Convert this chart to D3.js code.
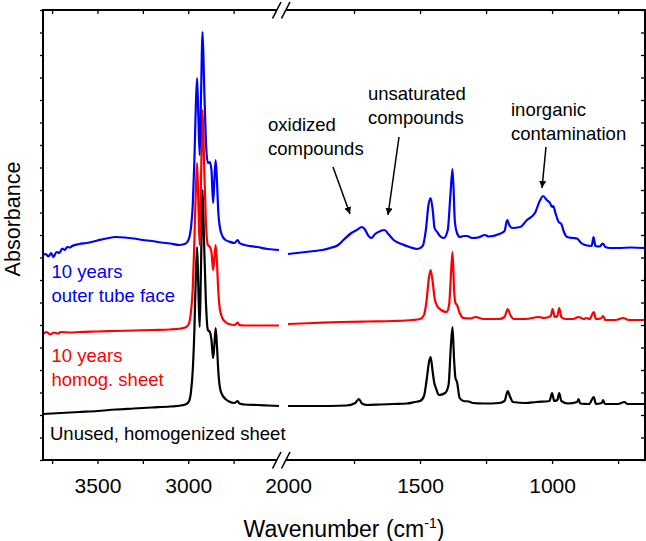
<!DOCTYPE html>
<html>
<head>
<meta charset="utf-8">
<script src="https://cdn.jsdelivr.net/npm/d3@7"></script>
<style>
  html, body { margin: 0; padding: 0; background: #fff; }
  svg { display: block; font-family: "Liberation Sans", Arial, Helvetica, sans-serif; }
</style>
</head>
<body>
<svg id="chart" width="646" height="541"></svg>
<script>
// ---- Data: [wavenumber (cm-1), absorbance (offset, a.u.)] ----
const blackLeft = [[3800,0.46],[3750,0.465],[3700,0.47],[3600,0.48],[3500,0.49],[3400,0.505],[3300,0.515],[3200,0.525],[3100,0.535],[3040,0.545],[3010,0.56],[2995,0.59],[2985,0.68],[2975,0.90],[2966,1.30],[2958,1.85],[2951,2.13],[2944,1.70],[2937,1.33],[2930,1.90],[2921,2.70],[2913,2.20],[2903,1.60],[2892,1.30],[2881,1.28],[2872,1.20],[2863,1.02],[2856,1.15],[2849,1.32],[2842,1.15],[2834,0.88],[2825,0.72],[2812,0.65],[2795,0.61],[2775,0.585],[2745,0.57],[2728,0.59],[2718,0.565],[2690,0.555],[2620,0.55],[2560,0.545],[2500,0.54]];
const blackRight = [[2000,0.54],[1900,0.54],[1780,0.545],[1745,0.57],[1732,0.61],[1720,0.565],[1700,0.55],[1650,0.555],[1600,0.56],[1550,0.565],[1520,0.58],[1500,0.59],[1485,0.64],[1475,0.80],[1466,0.98],[1460,1.03],[1452,0.88],[1446,0.77],[1440,0.72],[1428,0.65],[1405,0.67],[1392,0.75],[1383,1.15],[1377,1.33],[1371,1.00],[1366,0.82],[1360,0.78],[1350,0.62],[1335,0.59],[1315,0.585],[1300,0.57],[1260,0.565],[1200,0.57],[1180,0.59],[1168,0.69],[1160,0.64],[1148,0.58],[1100,0.57],[1060,0.58],[1010,0.59],[1000,0.67],[992,0.59],[980,0.60],[973,0.67],[965,0.59],[940,0.565],[905,0.58],[900,0.61],[893,0.565],[860,0.56],[842,0.63],[834,0.56],[812,0.57],[807,0.60],[800,0.56],[750,0.56],[726,0.58],[715,0.56],[650,0.56]];
const redLeft = [[3800,1.26],[3780,1.28],[3760,1.255],[3740,1.275],[3720,1.265],[3700,1.28],[3650,1.275],[3600,1.28],[3500,1.285],[3400,1.29],[3300,1.295],[3200,1.30],[3100,1.305],[3040,1.315],[3010,1.33],[2995,1.37],[2985,1.48],[2975,1.72],[2966,2.20],[2958,2.70],[2951,2.97],[2944,2.55],[2937,2.15],[2930,2.75],[2921,3.50],[2913,3.00],[2903,2.40],[2892,2.15],[2881,2.13],[2872,2.08],[2863,1.90],[2856,2.02],[2849,2.15],[2842,1.98],[2834,1.68],[2825,1.50],[2812,1.42],[2795,1.38],[2775,1.36],[2745,1.35],[2728,1.375],[2718,1.35],[2690,1.345],[2620,1.345],[2560,1.345],[2500,1.345]];
const redRight = [[2000,1.36],[1900,1.37],[1800,1.38],[1700,1.385],[1600,1.39],[1530,1.40],[1500,1.41],[1485,1.45],[1475,1.60],[1466,1.83],[1460,1.90],[1452,1.78],[1445,1.62],[1435,1.54],[1420,1.50],[1400,1.48],[1390,1.55],[1382,1.90],[1377,2.08],[1371,1.70],[1366,1.57],[1360,1.55],[1350,1.47],[1335,1.42],[1310,1.415],[1290,1.43],[1260,1.41],[1200,1.41],[1180,1.43],[1168,1.51],[1158,1.45],[1145,1.41],[1100,1.41],[1050,1.43],[1030,1.42],[1005,1.44],[998,1.51],[990,1.43],[980,1.44],[973,1.52],[965,1.43],[950,1.41],[920,1.41],[900,1.43],[880,1.41],[870,1.42],[858,1.41],[842,1.48],[834,1.41],[815,1.415],[807,1.44],[798,1.40],[760,1.40],[730,1.42],[710,1.40],[650,1.40]];
const blueLeft = [[3800,2.05],[3785,2.06],[3770,2.035],[3755,2.07],[3743,2.03],[3725,2.08],[3710,2.07],[3694,2.115],[3680,2.10],[3667,2.13],[3650,2.125],[3640,2.14],[3600,2.16],[3560,2.17],[3500,2.195],[3450,2.215],[3400,2.23],[3350,2.225],[3300,2.215],[3250,2.20],[3200,2.19],[3150,2.175],[3100,2.165],[3050,2.15],[3020,2.16],[3005,2.18],[2995,2.22],[2985,2.32],[2975,2.55],[2966,3.00],[2958,3.55],[2951,3.82],[2944,3.42],[2937,3.05],[2930,3.60],[2921,4.28],[2913,3.80],[2903,3.20],[2892,2.97],[2881,2.98],[2872,2.90],[2863,2.57],[2856,2.80],[2849,3.00],[2842,2.80],[2834,2.47],[2825,2.32],[2812,2.24],[2795,2.20],[2775,2.185],[2745,2.17],[2728,2.20],[2718,2.17],[2690,2.15],[2620,2.13],[2560,2.11],[2500,2.10]];
const blueRight = [[2000,2.06],[1950,2.075],[1900,2.09],[1870,2.10],[1840,2.12],[1810,2.15],[1790,2.20],[1760,2.27],[1740,2.30],[1720,2.33],[1710,2.31],[1695,2.24],[1685,2.22],[1670,2.26],[1650,2.29],[1635,2.30],[1620,2.26],[1600,2.20],[1570,2.16],[1540,2.13],[1510,2.11],[1490,2.14],[1478,2.30],[1468,2.55],[1460,2.62],[1452,2.50],[1445,2.32],[1435,2.28],[1425,2.24],[1410,2.22],[1395,2.30],[1385,2.65],[1377,2.91],[1368,2.38],[1360,2.27],[1349,2.23],[1335,2.24],[1322,2.24],[1303,2.22],[1280,2.225],[1254,2.25],[1240,2.235],[1200,2.26],[1180,2.29],[1170,2.40],[1162,2.35],[1152,2.32],[1121,2.33],[1095,2.40],[1065,2.47],[1045,2.60],[1034,2.64],[1020,2.60],[1008,2.57],[1000,2.53],[996,2.54],[985,2.45],[975,2.38],[965,2.36],[955,2.28],[943,2.23],[920,2.22],[906,2.215],[890,2.17],[875,2.15],[850,2.14],[843,2.23],[836,2.14],[820,2.135],[808,2.165],[798,2.13],[781,2.12],[750,2.12],[700,2.125],[650,2.12]];

const leftTicks = [3750, 3500, 3250, 3000, 2750];
const rightTicks = [2000, 1750, 1500, 1250, 1000, 750];
const tickLabels = [3500, 3000, 2000, 1500, 1000];

const series = [
  { name: "Unused, homogenized sheet", color: "#000000", left: blackLeft, right: blackRight },
  { name: "10 years homog. sheet", color: "#ff0000", left: redLeft, right: redRight },
  { name: "10 years outer tube face", color: "#0000ff", left: blueLeft, right: blueRight }
];

// ---- Layout ----
const W = 646, H = 541;
const plot = { left: 43, right: 645, top: 10, bottom: 460 };
const svg = d3.select("#chart");

const xL = d3.scaleLinear().domain([3800, 2500]).range([plot.left, 279]);
const xR = d3.scaleLinear().domain([2000, 650]).range([288, plot.right - 0.5]);
const y = d3.scaleLinear().domain([0, 4.5]).range([plot.bottom, plot.top]);
const yTicks = d3.range(0, 4.5001, 0.225);

// ---- Spectra ----
const lineL = d3.line().x(d => xL(d[0])).y(d => y(d[1])).curve(d3.curveMonotoneX);
const lineR = d3.line().x(d => xR(d[0])).y(d => y(d[1])).curve(d3.curveMonotoneX);
const gLines = svg.append("g");
series.forEach(s => {
  gLines.append("path").attr("d", lineL(s.left)).attr("fill", "none")
    .attr("stroke", s.color).attr("stroke-width", 2.2).attr("stroke-linejoin", "round");
  gLines.append("path").attr("d", lineR(s.right)).attr("fill", "none")
    .attr("stroke", s.color).attr("stroke-width", 2.2).attr("stroke-linejoin", "round");
});

// ---- Axes ----
const fmt = d => tickLabels.includes(d) ? String(d) : "";
function styleAxis(g) {
  g.select(".domain").remove();
  g.selectAll(".tick line").attr("stroke", "#000").attr("stroke-width", 1.3);
}
const gxL = svg.append("g").attr("transform", `translate(0,${plot.bottom})`)
  .call(d3.axisBottom(xL).tickValues(leftTicks).tickSize(4).tickFormat(fmt)).call(styleAxis);
const gxR = svg.append("g").attr("transform", `translate(0,${plot.bottom})`)
  .call(d3.axisBottom(xR).tickValues(rightTicks).tickSize(4).tickFormat(fmt)).call(styleAxis);
gxR.selectAll(".tick").filter(d => d === 2000).select("line").remove();
[gxL, gxR].forEach(g => g.selectAll(".tick text")
  .attr("y", 33).attr("dy", 0).attr("font-size", 21).attr("fill", "#000")
  .attr("font-family", "Liberation Sans, Arial, sans-serif"));

svg.append("g").attr("transform", `translate(0,${plot.top})`)
  .call(d3.axisTop(xL).tickValues(leftTicks).tickSize(-4).tickFormat("")).call(styleAxis);
svg.append("g").attr("transform", `translate(0,${plot.top})`)
  .call(d3.axisTop(xR).tickValues(rightTicks.filter(d => d !== 2000)).tickSize(-4).tickFormat("")).call(styleAxis);
svg.append("g").attr("transform", `translate(${plot.left},0)`)
  .call(d3.axisLeft(y).tickValues(yTicks).tickSize(3).tickFormat("")).call(styleAxis);
svg.append("g").attr("transform", `translate(${plot.right},0)`)
  .call(d3.axisRight(y).tickValues(yTicks).tickSize(-4).tickFormat("")).call(styleAxis);

// ---- Frame with axis break ----
const bL = xL(2500) - 2, bR = xR(2000) - 2;
const frame = svg.append("g").attr("stroke", "#000").attr("stroke-width", 2).attr("fill", "none");
frame.append("path").attr("d",
  `M${bL},${plot.top}H${plot.left}V${plot.bottom}H${bL}` +
  `M${bR},${plot.top}H${plot.right}V${plot.bottom}H${bR}`);
[plot.top, plot.bottom].forEach(yy => {
  [bL, bR].forEach(xx => {
    frame.append("line").attr("x1", xx - 4.5).attr("y1", yy + 8.5)
      .attr("x2", xx + 4).attr("y2", yy - 8).attr("stroke-width", 1.6);
  });
});

// ---- Axis titles ----
const xt = svg.append("text").attr("x", (plot.left + plot.right) / 2).attr("y", 537)
  .attr("text-anchor", "middle").attr("font-size", 23).attr("fill", "#000");
xt.append("tspan").text("Wavenumber (cm");
xt.append("tspan").text("-1").attr("font-size", 14).attr("dy", -9);
xt.append("tspan").text(")").attr("dy", 9);

svg.append("text").attr("transform", "translate(19.5,219) rotate(-90)")
  .attr("text-anchor", "middle").attr("font-size", 21.5).attr("fill", "#000").text("Absorbance");

// ---- Series labels ----
const fs = 18.5;
function label(lines, x, y0, color) {
  const t = svg.append("text").attr("x", x).attr("y", y0).attr("font-size", fs).attr("fill", color);
  lines.forEach((s, i) => t.append("tspan").attr("x", x).attr("dy", i === 0 ? 0 : 23.5).text(s));
}
label(["10 years", "outer tube face"], 51.5, 278, "#0000ff");
label(["10 years", "homog. sheet"], 51.5, 362, "#ff0000");
label(["Unused, homogenized sheet"], 50, 440, "#000");

// ---- Annotations ----
label(["oxidized", "compounds"], 268, 131, "#000");
label(["unsaturated", "compounds"], 368, 100, "#000");
label(["inorganic", "contamination"], 511, 116, "#000");

svg.append("defs").append("marker").attr("id", "ah").attr("viewBox", "0 0 10 10")
  .attr("refX", 10).attr("refY", 5).attr("markerWidth", 7).attr("markerHeight", 7)
  .attr("markerUnits", "userSpaceOnUse").attr("orient", "auto")
  .append("path").attr("d", "M0,0L10,5L0,10Z").attr("fill", "#000");
const arrows = [
  [[333, 167], [350, 214]],
  [[399, 137], [388, 215]],
  [[546, 147], [542, 188]]
];
arrows.forEach(a => svg.append("line")
  .attr("x1", a[0][0]).attr("y1", a[0][1]).attr("x2", a[1][0]).attr("y2", a[1][1])
  .attr("stroke", "#000").attr("stroke-width", 1.5).attr("marker-end", "url(#ah)"));
</script>
</body>
</html>
